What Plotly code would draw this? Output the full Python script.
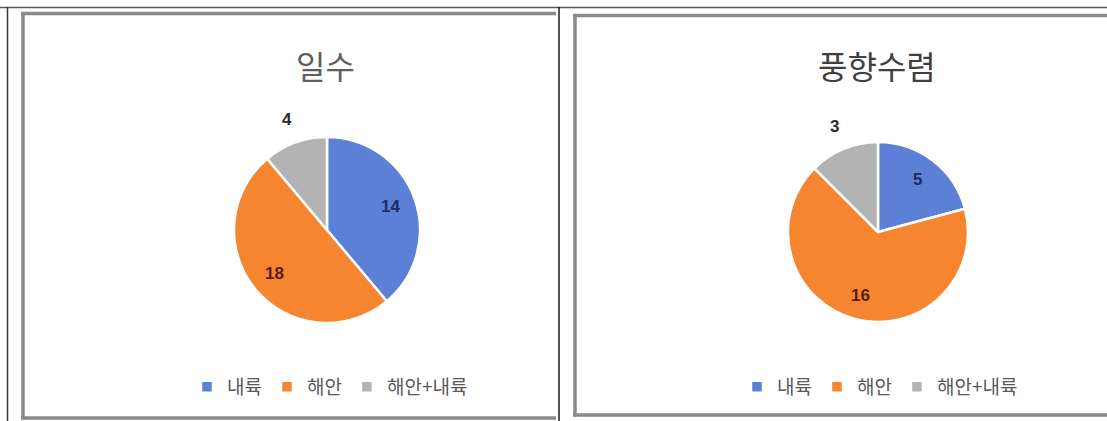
import math
import plotly.graph_objects as go

# ---- data ----
categories = ["내륙", "해안", "해안+내륙"]
days_values = [14, 18, 4]          # 일수
convergence_values = [5, 16, 3]    # 풍향수렴
titles = ["일수", "풍향수렴"]

colors = ["#5B80D6", "#F5862F", "#B3B3B3"]
label_colors = ["#1E2A66", "#5E1A0E", "#2A2A2A"]

W, H = 1107, 421
KFONT = "Noto Sans CJK KR"


def px_x(x):
    return x / W


def px_y(y):
    return 1 - y / H


# panel geometry in pixels: pie centre, radius, title/legend centre x
panels = [
    dict(values=days_values, cx=327, cy=230, r=93, tx=325, lx=330,
         title_color="#5F5F5F", legend="legend", group="days"),
    dict(values=convergence_values, cx=878, cy=232, r=90, tx=877, lx=880,
         title_color="#404040", legend="legend2", group="conv"),
]

fig = go.Figure()
annotations = []

for i, p in enumerate(panels):
    fig.add_trace(go.Pie(
        labels=categories,
        values=p["values"],
        sort=False,
        direction="clockwise",
        rotation=0,
        marker=dict(colors=colors, line=dict(color="white", width=2.5)),
        textinfo="none",
        hoverinfo="label+value",
        domain=dict(x=[px_x(p["cx"] - p["r"]), px_x(p["cx"] + p["r"])],
                    y=[px_y(p["cy"] + p["r"]), px_y(p["cy"] - p["r"])]),
        legend=p["legend"],
        legendgroup=p["group"],
        showlegend=True,
    ))

    # data labels placed at each slice's mid-angle
    total = sum(p["values"])
    start = 0.0
    for j, v in enumerate(p["values"]):
        sweep = 360.0 * v / total
        mid = math.radians(start + sweep / 2)
        start += sweep
        inside = v / total > 0.15
        rr = p["r"] * (0.73 if inside else 1.27)
        lx = p["cx"] + rr * math.sin(mid)
        ly = p["cy"] - rr * math.cos(mid)
        annotations.append(dict(
            x=px_x(lx), y=px_y(ly), xref="paper", yref="paper",
            text="<b>%d</b>" % v, showarrow=False,
            font=dict(family="Liberation Sans", size=17,
                      color=label_colors[j] if inside else "#2A2A2A"),
            xanchor="center", yanchor="middle",
        ))

    # chart title
    annotations.append(dict(
        x=px_x(p["tx"]), y=px_y(65), xref="paper", yref="paper",
        text=titles[i], showarrow=False,
        font=dict(family=KFONT, size=32, color=p["title_color"]),
        xanchor="center", yanchor="middle",
    ))

legend_style = dict(
    orientation="h", xanchor="center", yanchor="middle",
    font=dict(family=KFONT, size=19, color="#595959"),
    bgcolor="rgba(0,0,0,0)", itemclick=False, itemdoubleclick=False,
    traceorder="normal",
)

# frame lines (cell borders and chart-area borders)
shapes = []


def hline(y, x0, x1, color, width):
    shapes.append(dict(type="line", xref="paper", yref="paper",
                       x0=px_x(x0), x1=px_x(x1), y0=px_y(y), y1=px_y(y),
                       line=dict(color=color, width=width)))


def vline(x, y0, y1, color, width):
    shapes.append(dict(type="line", xref="paper", yref="paper",
                       x0=px_x(x), x1=px_x(x), y0=px_y(y0), y1=px_y(y1),
                       line=dict(color=color, width=width)))


# table cell borders
hline(7.5, 0, W, "#5A5A5A", 1.5)
vline(7.5, 7, H, "#3A3A3A", 1.5)
vline(559, 7, H, "#1A1A1A", 1.5)

# left chart area border
hline(13.5, 21, 556, "#8A8A8A", 3.5)
vline(23, 12, 419.5, "#8A8A8A", 3.5)
hline(418, 21, 556, "#8A8A8A", 3.5)

# right chart area border
hline(15.5, 573, W, "#8A8A8A", 3.5)
vline(575, 14, 416.5, "#8A8A8A", 3.5)
hline(415, 573, W, "#8A8A8A", 3.5)

fig.update_layout(
    width=W, height=H,
    margin=dict(l=0, r=0, t=0, b=0),
    paper_bgcolor="white",
    plot_bgcolor="white",
    annotations=annotations,
    shapes=shapes,
    legend=dict(x=px_x(panels[0]["lx"]), y=px_y(387), **legend_style),
    legend2=dict(x=px_x(panels[1]["lx"]), y=px_y(387), **legend_style),
)

fig.write_html("out.html")
